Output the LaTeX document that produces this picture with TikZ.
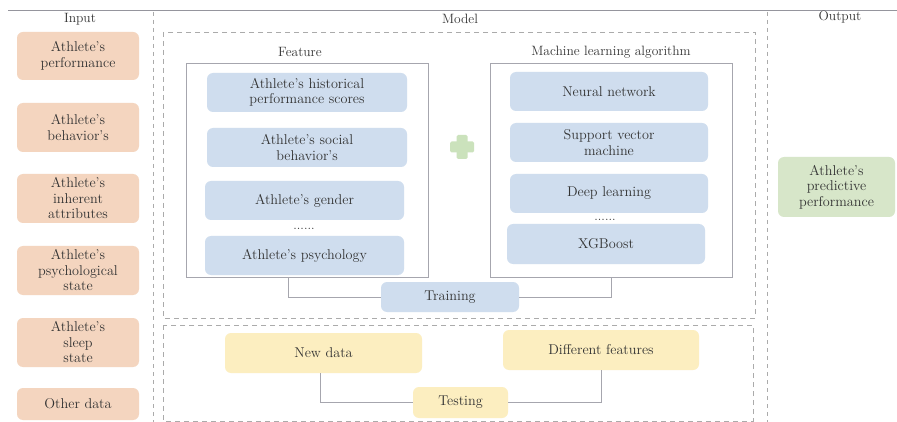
\documentclass[tikz,border=0pt]{standalone}
\usetikzlibrary{positioning}
\definecolor{inputfill}{HTML}{F4D5BF}
\definecolor{featfill}{HTML}{CFDDEE}
\definecolor{testfill}{HTML}{FCEEC0}
\definecolor{outfill}{HTML}{D7E6C9}
\definecolor{plusfill}{HTML}{CBE2BC}
\definecolor{txt}{HTML}{333333}
\definecolor{frame}{HTML}{A6A6AE}
\definecolor{dashc}{HTML}{ABABAB}
\tikzset{
  every node/.style={text=txt, font=\fontsize{14.2}{15.5}\selectfont},
  card/.style={rounded corners=6pt, draw=none, align=center, inner sep=0pt},
  inbox/.style={card, fill=inputfill, minimum width=122pt, minimum height=49pt},
  featbox/.style={card, fill=featfill, minimum height=39pt},
  testbox/.style={card, fill=testfill, minimum height=40pt},
  outbox/.style={card, fill=outfill, minimum width=117pt, minimum height=60pt},
  groupbox/.style={draw=frame, line width=0.8pt, minimum width=242pt, minimum height=214pt, inner sep=0pt},
  dashbox/.style={draw=dashc, line width=0.8pt, dash pattern=on 5pt off 4pt},
  sepline/.style={draw=dashc, line width=0.8pt, dash pattern=on 4pt off 4pt},
  link/.style={draw=frame, line width=0.9pt},
  title/.style={font=\fontsize{13.5}{15}\selectfont},
  dots/.style={font=\fontsize{13}{13}\selectfont, inner sep=0pt},
}
\begin{document}
\begin{tikzpicture}[x=1pt, y=-1pt]
  \useasboundingbox (0,0) rectangle (897,422);
  \fill[white] (0,0) rectangle (897,422);

  % header rule and column separators
  \draw[draw=frame!90!black, line width=0.8pt] (8,10) -- (897,10);
  \draw[sepline] (153,12) -- (153,422);
  \draw[sepline] (767,12) -- (767,422);

  % column headings
  \node[title] (hin) at (80,19) {Input};
  \node[title] (hmodel) at (460,19) {Model};
  \node[title] (hout) at (840,17) {Output};

  % input column
  \node[inbox, minimum height=48pt] (in1) at (78,56) {Athlete's\\performance};
  \node[inbox] (in2) at (78,127.5) {Athlete's\\behavior's};
  \node[inbox] (in3) at (78,198.5) {Athlete's\\inherent\\attributes};
  \node[inbox] (in4) at (78,270.5) {Athlete's\\psychological\\state};
  \node[inbox] (in5) at (78,342.5) {Athlete's\\sleep\\state};
  \node[inbox, minimum height=32pt] (in6) at (78,404) {Other data};

  % model: training part
  \draw[dashbox] (163,32) rectangle (755,318);
  \node[title] (tfeat) at (300,52) {Feature};
  \node[title] (tml) at (611,52) {Machine learning algorithm};
  \node[groupbox] (feat) at (307,170) {};
  \node[groupbox] (ml) at (611,170) {};

  \node[featbox, minimum width=200pt] (f1) at (307,92.5) {Athlete's historical\\performance scores};
  \node[featbox, minimum width=200pt] (f2) at (307,147.5) {Athlete's social\\behavior's};
  \node[featbox, minimum width=199pt] (f3) at (304.5,200.5) {Athlete's gender};
  \node[dots] (fdots) at (304,229) {......};
  \node[featbox, minimum width=199pt] (f4) at (304.5,255.5) {Athlete's psychology};

  \node[featbox, minimum width=198pt] (m1) at (609,91.5) {Neural network};
  \node[featbox, minimum width=198pt] (m2) at (609,142.5) {Support vector\\machine};
  \node[featbox, minimum width=198pt] (m3) at (609,193.5) {Deep learning};
  \node[dots] (mdots) at (605,219.5) {......};
  \node[featbox, minimum width=198pt, minimum height=40pt] (m4) at (606,244) {XGBoost};

  % plus sign between the two groups
  \node[fill=plusfill, minimum width=24pt, minimum height=11pt, inner sep=0pt, rounded corners=1.5pt] (plush) at (462,147) {};
  \node[fill=plusfill, minimum width=11pt, minimum height=24pt, inner sep=0pt, rounded corners=1.5pt] (plusv) at (462,147) {};

  \node[featbox, minimum width=138pt, minimum height=30pt] (train) at (450,297) {Training};
  \draw[link] ([xshift=-19pt]feat.south) |- (train.west);
  \draw[link] (ml.south) |- (train.east);

  % model: testing part
  \draw[dashbox] (163,325) rectangle (753,421);
  \node[testbox, minimum width=197pt] (newd) at (323.5,353) {New data};
  \node[testbox, minimum width=196pt] (diff) at (601,350) {Different features};
  \node[testbox, minimum width=95pt, minimum height=31pt] (test) at (460.5,402.5) {Testing};
  \draw[link] ([xshift=-3.5pt]newd.south) |- (test.west);
  \draw[link] (diff.south) |- (test.east);

  % output column
  \node[outbox] (out) at (836.5,187) {Athlete's\\predictive\\performance};
\end{tikzpicture}
\end{document}
